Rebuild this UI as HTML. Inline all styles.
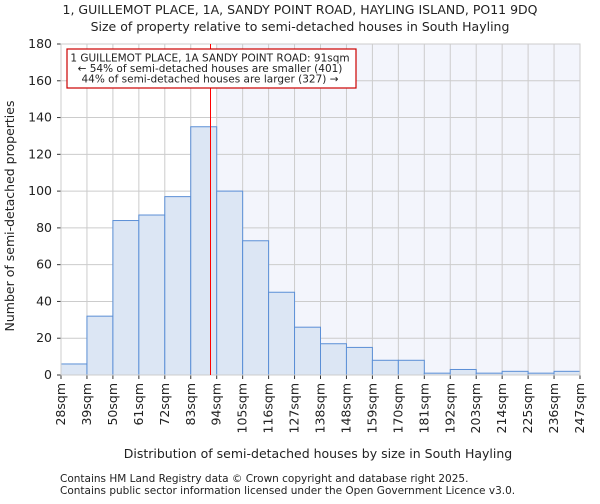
<!DOCTYPE html>
<html><head><meta charset="utf-8"><style>
body{margin:0;background:#fff;font-family:"DejaVu Sans","Liberation Sans",sans-serif;}
svg text{font-family:"DejaVu Sans","Liberation Sans",sans-serif;fill:#222;}
</style></head><body>
<svg id="c" width="600" height="500">
<text x="300" y="14" font-size="12.5" text-anchor="middle">1, GUILLEMOT PLACE, 1A, SANDY POINT ROAD, HAYLING ISLAND, PO11 9DQ</text>
<text x="300" y="31" font-size="12.5" text-anchor="middle">Size of property relative to semi-detached houses in South Hayling</text>
<g id="plot"></g>
<text x="318" y="458" font-size="12.5" text-anchor="middle">Distribution of semi-detached houses by size in South Hayling</text>
<text transform="translate(14,216) rotate(-90)" font-size="12.5" text-anchor="middle">Number of semi-detached properties</text>
<text x="60" y="482" font-size="10.5">Contains HM Land Registry data © Crown copyright and database right 2025.</text>
<text x="60" y="494" font-size="10.5">Contains public sector information licensed under the Open Government Licence v3.0.</text>
</svg>
<script>
const binLabels=["28sqm","39sqm","50sqm","61sqm","72sqm","83sqm","94sqm","105sqm","116sqm","127sqm","138sqm","148sqm","159sqm","170sqm","181sqm","192sqm","203sqm","214sqm","225sqm","236sqm","247sqm"];
const counts=[6,32,84,87,97,135,100,73,45,26,17,15,8,8,1,3,1,2,1,2];
const yTicks=[0,20,40,60,80,100,120,140,160,180];
const propertySize=91;
const binStart=28, binWidth=11;
const X0=61,X1=580,Y0=375,Y1=44,yMax=180;
const ns="http://www.w3.org/2000/svg";
const g=document.getElementById('plot');
const bw=(X1-X0)/counts.length;
const xb=i=>X0+i*bw;
const xv=v=>X0+(v-binStart)/binWidth*bw;
const y=v=>Y0-(v/yMax)*(Y0-Y1);
function mk(t,a){const e=document.createElementNS(ns,t);for(const k in a)e.setAttribute(k,a[k]);g.appendChild(e);return e;}
const shadeStart=xb(Math.ceil((propertySize-binStart)/binWidth));
let sh=mk('rect',{x:shadeStart,y:Y1,width:X1-shadeStart,height:Y0-Y1,fill:'#f3f5fc'});


yTicks.forEach(t=>{let l=mk('line',{x1:X0,x2:X1,y1:y(t),y2:y(t),stroke:'#cccccc'});


let tx=mk('text',{x:X0-9,y:y(t)+4,'font-size':12.5,'text-anchor':'end'});tx.textContent=t;


mk('line',{x1:X0-4,x2:X0,y1:y(t),y2:y(t),stroke:'#333'});});
binLabels.forEach((b,i)=>{let l=mk('line',{x1:xb(i),x2:xb(i),y1:Y1,y2:Y0,stroke:'#cccccc'});


mk('line',{x1:xb(i),x2:xb(i),y1:Y0,y2:Y0+4,stroke:'#333'});
let tx=mk('text',{transform:`translate(${xb(i)+4},${Y0+8}) rotate(-90)`,'font-size':12.5,'text-anchor':'end'});tx.textContent=b;

});
counts.forEach((c,i)=>{let r=mk('rect',{x:xb(i),y:y(c),width:bw,height:Y0-y(c),fill:'#dce6f4',stroke:'#5b8fd6','stroke-width':1});

});
mk('rect',{x:X0,y:Y1,width:X1-X0,height:Y0-Y1,fill:'none',stroke:'#cccccc'});
const rx=Math.round(xv(propertySize))+0.5;
let rl=mk('line',{x1:rx,x2:rx,y1:Y1,y2:Y0,stroke:'#ff0000','stroke-width':1});


let box=mk('rect',{x:67,y:49,width:289,height:39,fill:'#fff',stroke:'#cc0000','stroke-width':1.2});


["1 GUILLEMOT PLACE, 1A SANDY POINT ROAD: 91sqm","← 54% of semi-detached houses are smaller (401)","44% of semi-detached houses are larger (327) →"].forEach((s,i)=>{
let t=mk('text',{x:210,y:61.5+i*10.5,'font-size':10.5,'text-anchor':'middle'});t.textContent=s;

});
</script>
</body></html>
